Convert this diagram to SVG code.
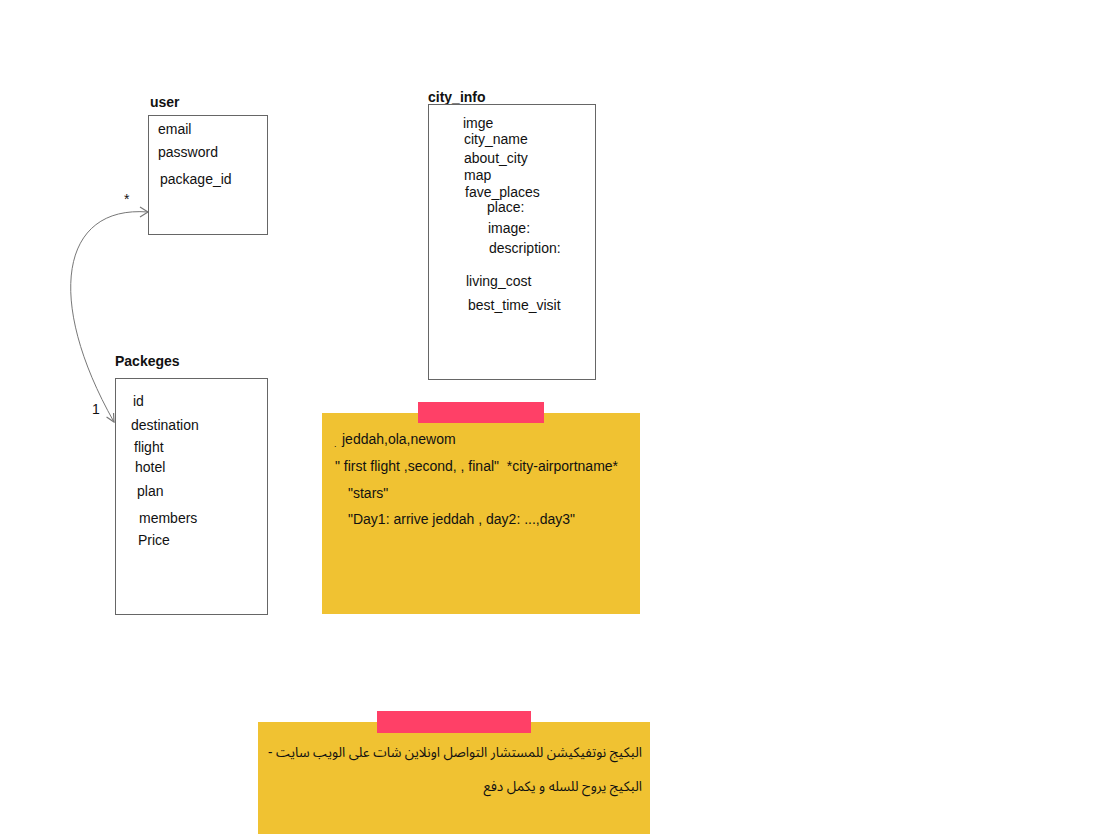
<svg xmlns="http://www.w3.org/2000/svg" width="1100" height="834" viewBox="0 0 1100 834">
<style>
.box{fill:#fff;stroke:#666;stroke-width:1}
.t{font-family:"Liberation Sans",Arial,sans-serif;font-size:14px;fill:#111}
.h{font-family:"Liberation Sans",Arial,sans-serif;font-size:14px;font-weight:bold;fill:#111}
.note{fill:#F0C232}
.tape{fill:#FF4067}
.ar{font-family:"Noto Sans Arabic","DejaVu Sans",sans-serif;font-size:13.6px;fill:#111}
.conn{fill:none;stroke:#777;stroke-width:1}
</style>
<defs>
<marker id="arr" viewBox="0 0 10 10" refX="9" refY="5" markerWidth="10" markerHeight="10" markerUnits="userSpaceOnUse" orient="auto">
<path d="M1,1 L9,5 L1,9" fill="none" stroke="#777" stroke-width="1.2"/>
</marker>
</defs>
<rect width="1100" height="834" fill="#fff"/>
<g id="connectors">
<path class="conn" d="M148,212 C60,205 45,300 114,422" marker-end="url(#arr)"/>
<path d="M140,207 L148,212 L140,217" fill="none" stroke="#777" stroke-width="1.2"/>
<text class="t" x="124" y="204">*</text>
<text class="t" x="92" y="414">1</text>
</g>
<g id="user">
<text class="h" x="150" y="107">user</text>
<rect class="box" x="148.5" y="115.5" width="119" height="119"/>
<text class="t" x="158" y="134">email</text>
<text class="t" x="158" y="157">password</text>
<text class="t" x="160" y="184">package_id</text>
</g>
<g id="packeges">
<text class="h" x="115" y="366">Packeges</text>
<rect class="box" x="115.5" y="378.5" width="152" height="236"/>
<text class="t" x="133" y="406">id</text>
<text class="t" x="131" y="430">destination</text>
<text class="t" x="134" y="452">flight</text>
<text class="t" x="135" y="472">hotel</text>
<text class="t" x="137" y="496">plan</text>
<text class="t" x="139" y="523">members</text>
<text class="t" x="138" y="545">Price</text>
</g>
<g id="city_info">
<text class="h" x="428" y="102">city_info</text>
<rect class="box" x="428.5" y="104.5" width="167" height="275"/>
<text class="t" x="463" y="128">imge</text>
<text class="t" x="464" y="144">city_name</text>
<text class="t" x="464" y="163">about_city</text>
<text class="t" x="464" y="180">map</text>
<text class="t" x="465" y="197">fave_places</text>
<text class="t" x="487" y="212">place:</text>
<text class="t" x="488" y="233">image:</text>
<text class="t" x="489" y="253">description:</text>
<text class="t" x="466" y="286">living_cost</text>
<text class="t" x="468" y="310">best_time_visit</text>
</g>
<g id="note1">
<rect class="note" x="322" y="413" width="318" height="201"/>
<rect class="tape" x="418" y="402" width="126" height="21"/>
<text class="t" x="334" y="447" style="font-size:9px">.</text>
<text class="t" x="342" y="444">jeddah,ola,newom</text>
<text class="t" x="335" y="471" xml:space="preserve">" first flight ,second, , final"  *city-airportname*</text>
<text class="t" x="348" y="498">"stars"</text>
<text class="t" x="348" y="524">"Day1: arrive jeddah , day2: ...,day3"</text>
</g>
<g id="note2">
<rect class="note" x="258" y="722" width="392" height="112"/>
<rect class="tape" x="377" y="711" width="154" height="22"/>
<text class="ar" x="642" y="757" text-anchor="end">- البكيج نوتفيكيشن للمستشار التواصل اونلاين شات على الويب سايت</text>
<text class="ar" x="642" y="791" text-anchor="end">البكيج يروح للسله و يكمل دفع</text>
</g>
</svg>
